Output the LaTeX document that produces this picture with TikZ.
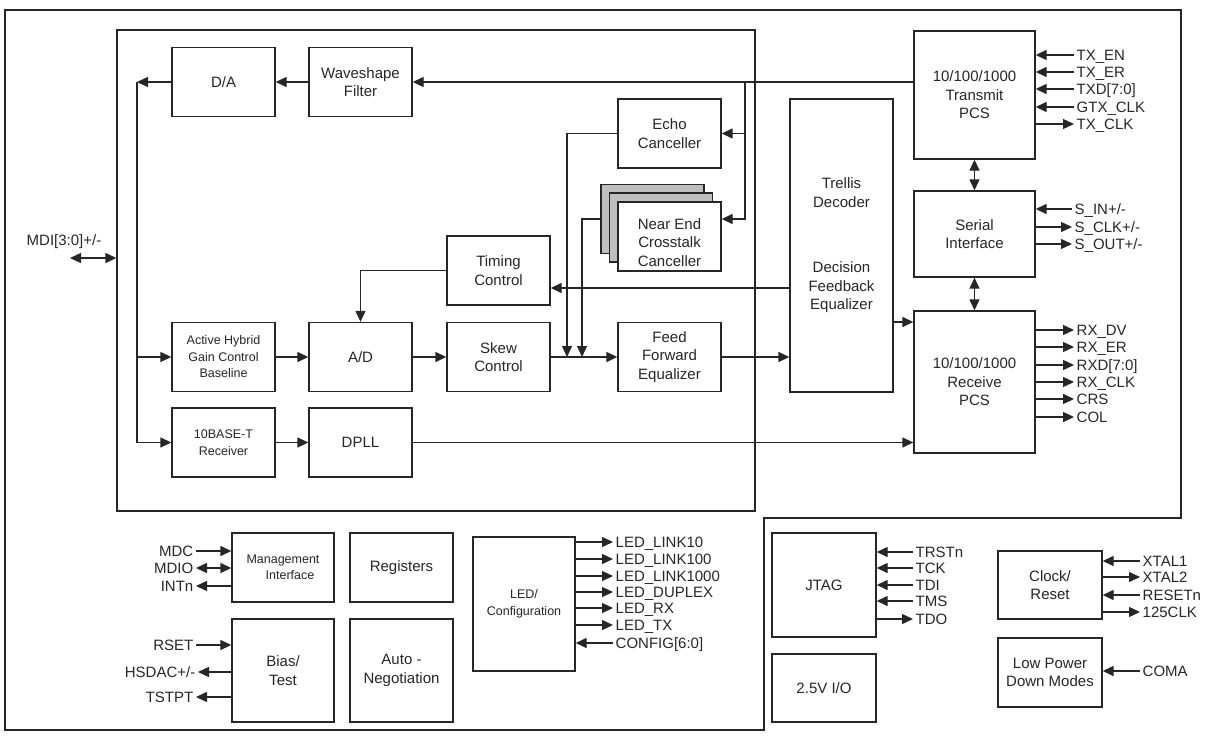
\documentclass[tikz,border=0pt]{standalone}
\usepackage{fontspec}
\setmainfont{Liberation Sans}
\usetikzlibrary{arrows.meta}

\tikzset{
	blk/.style={draw, fill=white, minimum width=103pt, minimum height=69pt, inner sep=0pt, align=center, font=\fontsize{15}{18.5}\selectfont},
	small/.style={font=\fontsize{12.5}{16.5}\selectfont},
	pin/.style={anchor=west, inner sep=2pt, text height=10.7pt, text depth=0pt, font=\fontsize{15}{18}\selectfont},
	pinl/.style={pin, anchor=east},
	arr/.style={-{Triangle[length=11pt,width=10pt]}},
	both/.style={{Triangle[length=11pt,width=10pt]}-{Triangle[length=11pt,width=10pt]}},
}

\begin{document}
\begin{tikzpicture}[x=1pt, y=-1pt, line width=1.35pt, color=black!85]
	\useasboundingbox (0,0) rectangle (1207,739);
	% frames
	\draw (5,10) -- (1181,10) -- (1181,518) -- (764,518) -- (764,730) -- (5,730) -- cycle;
	\node[draw, minimum width=638pt, minimum height=481pt] (core) at (436,270.5) {};

	% receive / transmit path
	\node[blk] (da) at (223.5,82) {D/A};
	\node[blk] (wave) at (360.5,82) {Waveshape\\Filter};
	\node[blk] (echo) at (669.5,133.5) {Echo\\Canceller};
	\node[blk, fill=black!25] (nextc) at (652.5,219) {};
	\node[blk, fill=black!25] (nextb) at (661,227.5) {};
	\node[blk] (next) at (669.5,236.5) {\rule{0pt}{23pt}Near End\\Crosstalk\\Canceller};
	\node[blk] (timing) at (498.5,270.5) {Timing\\Control};
	\node[blk, small] (hybrid) at (223.5,357) {Active Hybrid\\Gain Control\\Baseline};
	\node[blk] (ad) at (360.5,357) {A/D};
	\node[blk] (skew) at (498.5,357) {Skew\\Control};
	\node[blk] (ffe) at (669.5,357) {Feed\\Forward\\Equalizer};
	\node[blk, small] (tenbt) at (223.5,442.5) {10BASE-T\\Receiver};
	\node[blk] (dpll) at (360.5,442.5) {DPLL};
	\node[blk, minimum height=293pt] (dfe) at (841.5,245.5) {Trellis\\Decoder\\[47pt]Decision\\Feedback\\Equalizer};
	\node[blk, minimum width=121pt, minimum height=128pt] (txpcs) at (974.5,95) {10/100/1000\\Transmit\\PCS};
	\node[blk, minimum width=121pt, minimum height=86pt] (serial) at (974.5,234) {Serial\\Interface};
	\node[blk, minimum width=121pt, minimum height=142pt] (rxpcs) at (974.5,382) {10/100/1000\\Receive\\PCS};

	% lower blocks
	\node[blk, small, minimum width=102pt] (mgmt) at (283,567.5) {Management\\\hspace*{14pt}Interface};
	\node[blk] (regs) at (401.5,567.5) {Registers};
	\node[blk, minimum width=102pt, minimum height=103pt] (bias) at (283,670.5) {Bias/\\Test};
	\node[blk, minimum height=103pt] (auto) at (401.5,670.5) {Auto -\\Negotiation};
	\node[blk, small, minimum width=102pt, minimum height=134pt] (led) at (524,604) {LED/\\Configuration};
	\node[blk, minimum width=104pt, minimum height=104pt] (jtag) at (824,585) {JTAG};
	\node[blk, minimum width=104pt, minimum height=68pt] (io) at (824,688) {2.5V I/O};
	\node[blk, minimum width=104pt, minimum height=68pt] (clk) at (1050,585) {Clock/\\Reset};
	\node[blk, minimum width=104pt] (lpd) at (1050,672.5) {Low Power\\Down Modes};

	\coordinate (bt) at (137,82);
	\coordinate (tap) at (745,82);
	\coordinate (ej) at (567,357);
	\coordinate (nj) at (582,357);
	\coordinate (tfb) at (790,288);
	\coordinate (dfo) at (893,322);
	\coordinate (mdi) at (70,258);
	\node[pin, anchor=center] (mdil) at (64,240) {MDI[3:0]+/-};

	% connections
	\draw[arr] (txpcs.west |- wave.east) -- (wave.east);
	\draw[arr] (wave.west) -- (da.east);
	\draw[arr] (da.west) -- (bt);
	\draw[arr] (bt) |- (tenbt.west);
	\draw[arr] (bt |- hybrid.west) -- (hybrid.west);
	\draw[both] (mdi) -- (mdi -| core.west);
	\draw[arr] (hybrid) -- (ad);
	\draw[arr] (ad) -- (skew);
	\draw[arr] (skew) -- (ffe);
	\draw[arr] (ffe) -- (ffe -| dfe.west);
	\draw[arr] (tenbt) -- (dpll);
	\draw[arr] (dpll) -- (dpll -| rxpcs.west);
	\draw[arr] (timing.west) -| (ad.north);
	\draw[arr] (tfb) -- (tfb -| timing.east);
	\draw[arr] (dfo) -- (dfo -| rxpcs.west);
	\draw[arr] (tap) |- (nextc.west -| next.east);
	\draw[arr] (tap |- echo.east) -- (echo.east);
	\draw[arr] (echo.west) -| (ej);
	\draw[arr] (nextc.west) -| (nj);
	\draw[both] (txpcs) -- (serial);
	\draw[both] (serial) -- (rxpcs);

	% pins, right side
	\foreach \n/\y/\t in {txen/55/TX\_EN, txer/72/TX\_ER, txd/89/{TXD[7:0]}, gtx/107/GTX\_CLK}{
		\node[pin] (\n) at (1074,\y) {\t};
		\draw[arr] (\n.west) -- (\n.west -| txpcs.east);
	}
	\node[pin] (txclk) at (1074,124) {TX\_CLK};
	\draw[arr] (txclk.west -| txpcs.east) -- (txclk.west);
	\node[pin] (sin) at (1072,209) {S\_IN+/-};
	\draw[arr] (sin.west) -- (sin.west -| serial.east);
	\foreach \n/\y/\t in {sclk/227/{S\_CLK+/-}, sout/244/{S\_OUT+/-}}{
		\node[pin] (\n) at (1072,\y) {\t};
		\draw[arr] (\n.west -| serial.east) -- (\n.west);
	}
	\foreach \n/\y/\t in {rxdv/330/RX\_DV, rxer/347/RX\_ER, rxd/365/{RXD[7:0]}, rxclk/382/RX\_CLK, crs/399/CRS, col/417/COL}{
		\node[pin] (\n) at (1074,\y) {\t};
		\draw[arr] (\n.west -| rxpcs.east) -- (\n.west);
	}

	% pins, lower part
	\node[pinl] (mdc) at (196,551) {MDC};
	\draw[arr] (mdc.east) -- (mdc.east -| mgmt.west);
	\node[pinl] (mdio) at (196,568) {MDIO};
	\draw[both] (mdio.east) -- (mdio.east -| mgmt.west);
	\node[pinl] (intn) at (196,586) {INTn};
	\draw[arr] (intn.east -| mgmt.west) -- (intn.east);
	\node[pinl] (rset) at (196,645) {RSET};
	\draw[arr] (rset.east) -- (rset.east -| bias.west);
	\node[pinl] (hsdac) at (198,672) {HSDAC+/-};
	\draw[arr] (hsdac.east -| bias.west) -- (hsdac.east);
	\node[pinl] (tstpt) at (196,697) {TSTPT};
	\draw[arr] (tstpt.east -| bias.west) -- (tstpt.east);
	\foreach \n/\y/\t in {lk10/542/LED\_LINK10, lk100/559/LED\_LINK100, lk1000/576/LED\_LINK1000, dup/592/LED\_DUPLEX, lrx/608/LED\_RX, ltx/625/LED\_TX}{
		\node[pin] (\n) at (613,\y) {\t};
		\draw[arr] (\n.west -| led.east) -- (\n.west);
	}
	\node[pin] (cfg) at (613,643) {CONFIG[6:0]};
	\draw[arr] (cfg.west) -- (cfg.west -| led.east);
	\foreach \n/\y/\t in {trst/552/TRSTn, tck/568/TCK, tdi/585/TDI, tms/601/TMS}{
		\node[pin] (\n) at (913,\y) {\t};
		\draw[arr] (\n.west) -- (\n.west -| jtag.east);
	}
	\node[pin] (tdo) at (913,619) {TDO};
	\draw[arr] (tdo.west -| jtag.east) -- (tdo.west);
	\node[pin] (xtal1) at (1140,561) {XTAL1};
	\draw[arr] (xtal1.west) -- (xtal1.west -| clk.east);
	\node[pin] (xtal2) at (1140,577) {XTAL2};
	\draw[arr] (xtal2.west -| clk.east) -- (xtal2.west);
	\node[pin] (rstn) at (1140,595) {RESETn};
	\draw[arr] (rstn.west) -- (rstn.west -| clk.east);
	\node[pin] (c125) at (1140,612) {125CLK};
	\draw[arr] (c125.west -| clk.east) -- (c125.west);
	\node[pin] (coma) at (1140,671) {COMA};
	\draw[arr] (coma.west) -- (coma.west -| lpd.east);
\end{tikzpicture}
\end{document}
